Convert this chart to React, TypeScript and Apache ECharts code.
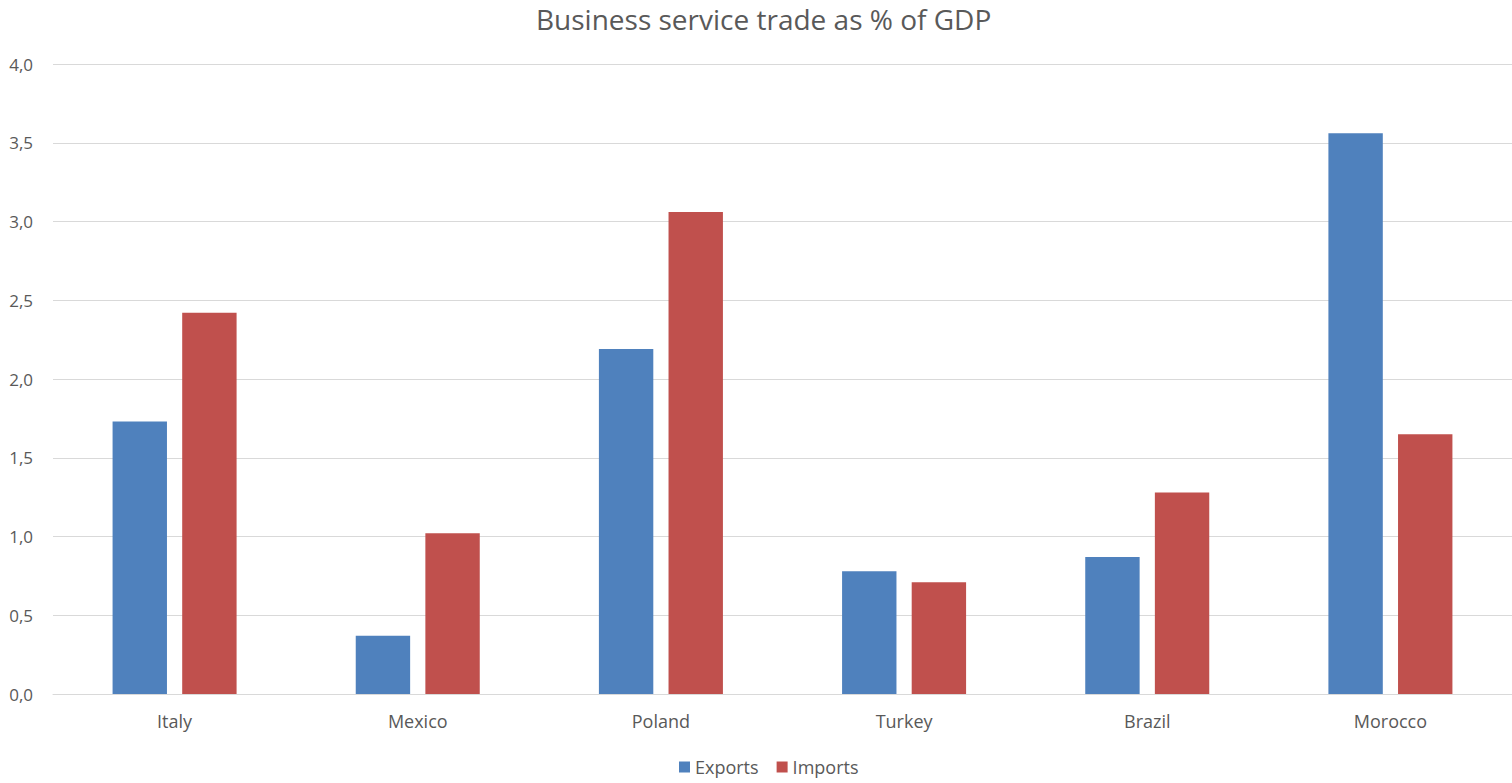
import React, { useEffect, useRef } from "react";
import * as echarts from "echarts";

const categories = ["Italy", "Mexico", "Poland", "Turkey", "Brazil", "Morocco"];
const exportsValues = [1.73, 0.37, 2.19, 0.78, 0.87, 3.56];
const importsValues = [2.42, 1.02, 3.06, 0.71, 1.28, 1.65];
const yTicks = { min: 0, max: 4, interval: 0.5 };

export default function App() {
  const ref = useRef<HTMLDivElement>(null);
  useEffect(() => {
    if (!ref.current) return;
    const chart = echarts.init(ref.current, undefined, { renderer: "svg" });
    const font = "'Open Sans', 'Noto Sans', sans-serif";
    chart.setOption({
      animation: false,
      textStyle: { fontFamily: font },
      title: {
        text: "Business service trade as % of GDP",
        left: 531,
        top: 4,
        padding: [0, 5],
        textStyle: {
          fontFamily: font,
          fontSize: 28,
          lineHeight: 30,
          fontWeight: "normal",
          color: "#595959",
        },
      },
      legend: {
        bottom: 2,
        left: 674,
        itemWidth: 11,
        itemHeight: 11,
        itemGap: 18,
        icon: "rect",
        textStyle: { fontFamily: font, fontSize: 18, color: "#595959" },
        data: ["Exports", "Imports"],
      },
      grid: { left: 53, right: 0, top: 64, bottom: 89, containLabel: false },
      xAxis: {
        type: "category",
        data: categories,
        axisLine: { show: true, lineStyle: { color: "#d9d9d9", width: 1 } },
        axisTick: { show: false },
        axisLabel: { color: "#595959", fontSize: 18, margin: 18, fontFamily: font },
      },
      yAxis: {
        type: "value",
        min: yTicks.min,
        max: yTicks.max,
        interval: yTicks.interval,
        axisLine: { show: false },
        axisTick: { show: false },
        splitLine: { lineStyle: { color: "#d9d9d9", width: 1 } },
        axisLabel: {
          color: "#595959",
          fontSize: 17,
          margin: 20,
          fontFamily: font,
          formatter: (v: number) => v.toFixed(1).replace(".", ","),
        },
      },
      series: [
        {
          name: "Exports",
          type: "bar",
          data: exportsValues,
          itemStyle: { color: "#4f81bd" },
          barGap: "28%",
          barCategoryGap: "49%",
        },
        {
          name: "Imports",
          type: "bar",
          data: importsValues,
          itemStyle: { color: "#c0504d" },
          barGap: "28%",
          barCategoryGap: "49%",
        },
      ],
    });
    return () => chart.dispose();
  }, []);
  return (
    <div
      ref={ref}
      style={{ position: "fixed", left: 0, top: 0, width: 1512, height: 783, background: "#fff" }}
    />
  );
}
